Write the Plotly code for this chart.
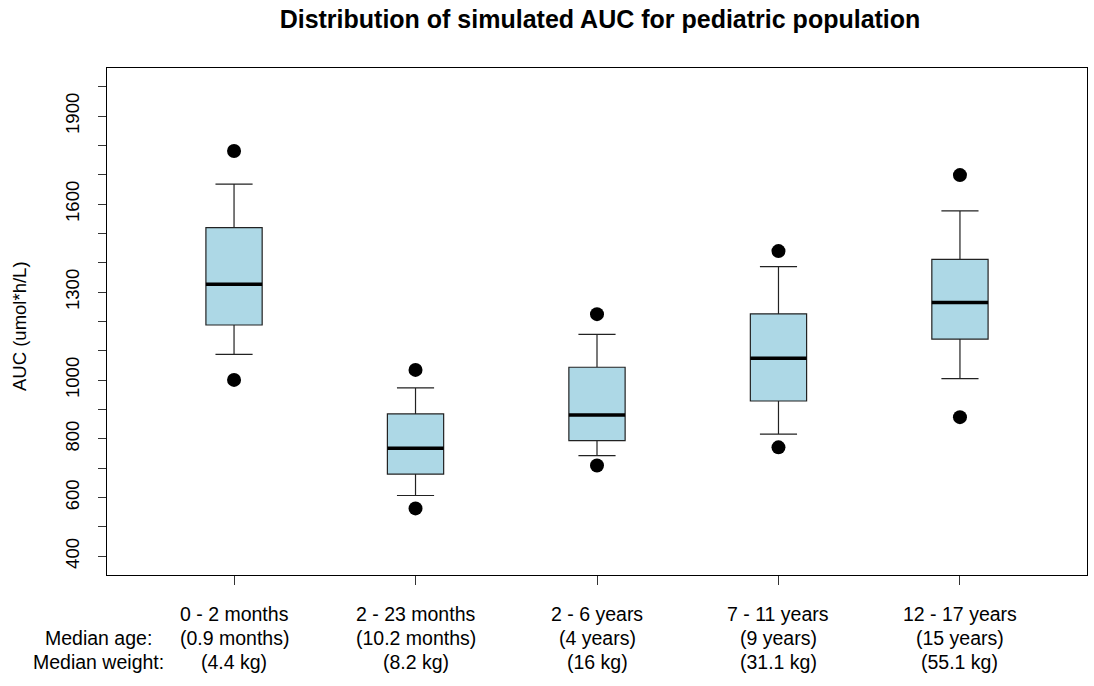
import plotly.graph_objects as go

# ---- data ----
groups = ["0 - 2 months", "2 - 23 months", "2 - 6 years", "7 - 11 years", "12 - 17 years"]
median_age = ["(0.9 months)", "(10.2 months)", "(4 years)", "(9 years)", "(15 years)"]
median_weight = ["(4.4 kg)", "(8.2 kg)", "(16 kg)", "(31.1 kg)", "(55.1 kg)"]
positions = [1, 2, 3, 4, 5]

lower_whisker = [1088, 607, 743, 816, 1005]
q1 = [1188, 680, 794, 929, 1140]
median = [1327, 768, 881, 1075, 1265]
q3 = [1520, 885, 1044, 1226, 1412]
upper_whisker = [1668, 974, 1156, 1387, 1577]
outliers_low = [1001, 563, 709, 771, 874]
outliers_high = [1781, 1035, 1225, 1440, 1699]

y_tickvals = list(range(400, 2001, 100))
y_labelled = [400, 600, 800, 1000, 1300, 1600, 1900]

BOX_W = 0.31
FONT = "Liberation Sans, Arial, sans-serif"

fig = go.Figure()

fig.add_trace(go.Box(
    x=positions, q1=q1, median=median, q3=q3,
    lowerfence=lower_whisker, upperfence=upper_whisker,
    width=BOX_W, whiskerwidth=0.66,
    fillcolor="#ADD8E6", line=dict(color="#222222", width=1.2),
    boxpoints=False, showlegend=False, hoverinfo="skip",
))

# thick median bars
mx, my = [], []
for p, m in zip(positions, median):
    mx += [p - BOX_W / 2, p + BOX_W / 2, None]
    my += [m, m, None]
fig.add_trace(go.Scatter(x=mx, y=my, mode="lines",
                         line=dict(color="black", width=3.5),
                         showlegend=False, hoverinfo="skip"))

# outliers
fig.add_trace(go.Scatter(
    x=positions + positions, y=outliers_low + outliers_high, mode="markers",
    marker=dict(color="black", size=14, line=dict(width=0)),
    showlegend=False, hoverinfo="skip"))

fig.update_xaxes(
    range=[0.3, 5.7], tickvals=positions, ticktext=[""] * len(positions),
    ticks="outside", ticklen=9, tickcolor="#333333",
    showline=True, mirror=True, linecolor="black", linewidth=1,
    showgrid=False, zeroline=False,
)
fig.update_yaxes(
    range=[336, 2064], tickvals=y_tickvals,
    ticktext=[str(v) if v in y_labelled else "" for v in y_tickvals],
    tickangle=-90, ticks="outside", ticklen=8, tickcolor="#333333",
    tickfont=dict(size=18.5, color="black", family=FONT),
    ticklabelstandoff=12,
    showline=True, mirror=True, linecolor="black", linewidth=1,
    showgrid=False, zeroline=False,
)

annotations = [dict(
    x=(20 - 107) / 980, xref="paper", y=(575 - 326) / 507, yref="paper",
    text="AUC (umol*h/L)", textangle=-90, showarrow=False,
    xanchor="center", yanchor="middle",
    font=dict(size=18.5, color="black", family=FONT))]
rows = [(groups, 614), (median_age, 638), (median_weight, 662)]
for texts, ypx in rows:
    for p, t in zip(positions, texts):
        annotations.append(dict(
            x=p, xref="x", y=(575 - ypx) / 507, yref="paper",
            text=t, showarrow=False, xanchor="center", yanchor="middle",
            font=dict(size=19.5, color="black", family=FONT)))
for t, ypx in [("Median age:", 638), ("Median weight:", 662)]:
    annotations.append(dict(
        x=(98 - 107) / 980, xref="paper", y=(575 - ypx) / 507, yref="paper",
        text=t, showarrow=False, xanchor="center", yanchor="middle",
        font=dict(size=19.5, color="black", family=FONT)))

fig.update_layout(
    width=1094, height=686,
    margin=dict(l=107, r=7, t=68, b=111),
    paper_bgcolor="white", plot_bgcolor="white",
    title=dict(text="<b>Distribution of simulated AUC for pediatric population</b>",
               x=600 / 1094, xanchor="center", y=1 - 19 / 686, yanchor="middle",
               font=dict(size=25, color="black", family=FONT)),
    annotations=annotations,
    font=dict(family=FONT, color="black"),
)

fig.write_html("out.html")
